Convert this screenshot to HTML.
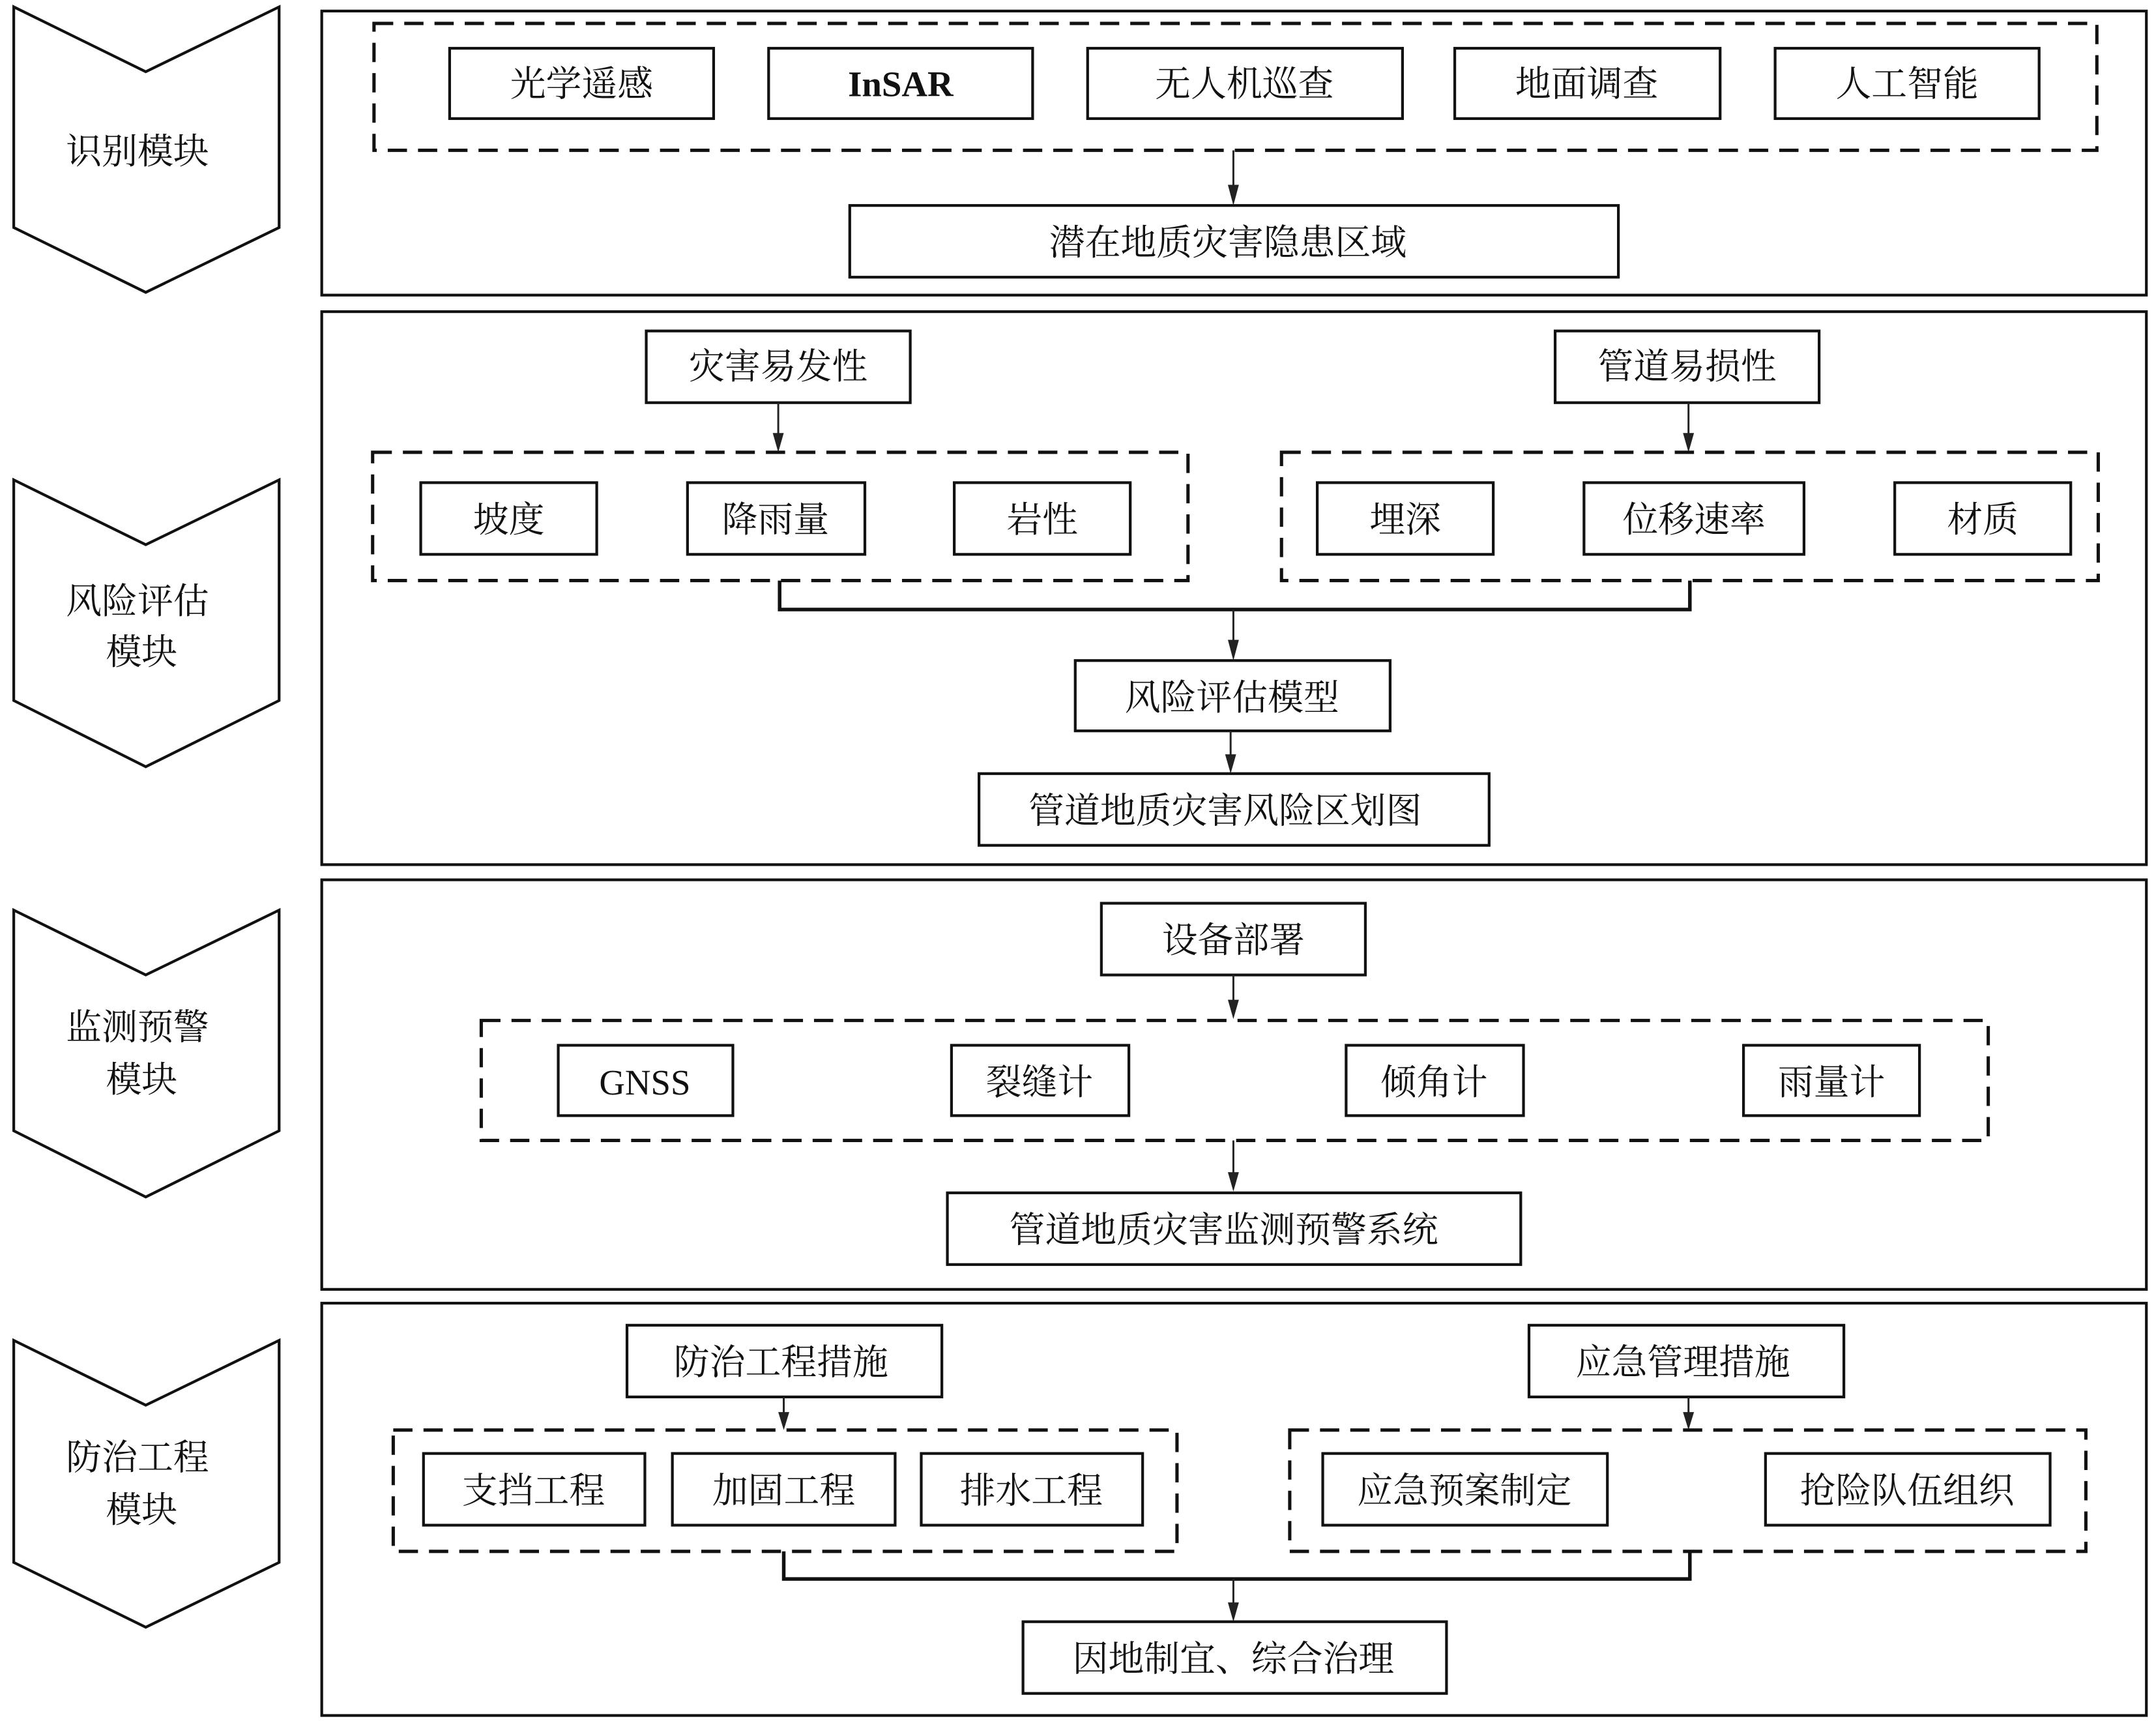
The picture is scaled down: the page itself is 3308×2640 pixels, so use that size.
<!DOCTYPE html>
<html><head><meta charset="utf-8"><style>
html,body{margin:0;padding:0;background:#fff}
svg{display:block}
text{font-family:"Liberation Serif","Noto Serif CJK SC",serif;font-size:26px;fill:#111;text-anchor:middle;dominant-baseline:central}
.b{fill:none;stroke:#111;stroke-width:2}
.d{fill:none;stroke:#111;stroke-width:2.4;stroke-dasharray:14 8}
.l{fill:none;stroke:#222;stroke-width:1.4}
.c{fill:none;stroke:#111;stroke-width:2.6}
.a{fill:#222}
</style></head><body>
<svg width="3308" height="2640" viewBox="0 0 1568 1248" preserveAspectRatio="none" xmlns="http://www.w3.org/2000/svg">
<polygon class="b" points="10,5 106,52 203,5 203,165 106,212 10,165"/>
<text x="100" y="110">识别模块</text>
<polygon class="b" points="10,348 106,395 203,348 203,508 106,556 10,508"/>
<text x="100" y="436">风险评估</text><text x="103" y="473">模块</text>
<polygon class="b" points="10,660 106,707 203,660 203,820 106,868 10,820"/>
<text x="100" y="745">监测预警</text><text x="103" y="783">模块</text>
<polygon class="b" points="10,972 106,1019 203,972 203,1133 106,1180 10,1133"/>
<text x="100" y="1057">防治工程</text><text x="103" y="1095">模块</text>

<rect class="b" x="234" y="8" width="1327" height="206"/>
<rect class="b" x="234" y="226" width="1327" height="401"/>
<rect class="b" x="234" y="638" width="1327" height="297"/>
<rect class="b" x="234" y="945" width="1327" height="299"/>

<rect class="d" x="272" y="17" width="1253" height="92"/>
<rect class="b" x="327" y="35" width="192" height="51"/><text x="423" y="61">光学遥感</text>
<rect class="b" x="559" y="35" width="192" height="51"/><text x="655" y="61" style="font-weight:bold">InSAR</text>
<rect class="b" x="791" y="35" width="229" height="51"/><text x="905" y="61">无人机巡查</text>
<rect class="b" x="1058" y="35" width="193" height="51"/><text x="1154" y="61">地面调查</text>
<rect class="b" x="1291" y="35" width="192" height="51"/><text x="1387" y="61">人工智能</text>
<line class="l" x1="897" y1="109" x2="897" y2="140"/><polygon class="a" points="893,134 901,134 897,149"/>
<rect class="b" x="618" y="149" width="559" height="52"/><text x="893" y="176">潜在地质灾害隐患区域</text>

<rect class="b" x="470" y="240" width="192" height="52"/><text x="566" y="266">灾害易发性</text>
<rect class="b" x="1131" y="240" width="192" height="52"/><text x="1227" y="266">管道易损性</text>
<line class="l" x1="566" y1="292" x2="566" y2="320"/><polygon class="a" points="562,314 570,314 566,328"/>
<line class="l" x1="1228" y1="292" x2="1228" y2="320"/><polygon class="a" points="1224,314 1232,314 1228,328"/>
<rect class="d" x="271" y="328" width="593" height="93"/>
<rect class="d" x="932" y="328" width="594" height="93"/>
<rect class="b" x="306" y="350" width="128" height="52"/><text x="370" y="377">坡度</text>
<rect class="b" x="500" y="350" width="129" height="52"/><text x="564" y="377">降雨量</text>
<rect class="b" x="694" y="350" width="128" height="52"/><text x="758" y="377">岩性</text>
<rect class="b" x="958" y="350" width="128" height="52"/><text x="1022" y="377">埋深</text>
<rect class="b" x="1152" y="350" width="160" height="52"/><text x="1232" y="377">位移速率</text>
<rect class="b" x="1378" y="350" width="128" height="52"/><text x="1442" y="377">材质</text>
<polyline class="c" points="567,421 567,442 1229,442 1229,421"/>
<line class="l" x1="897" y1="442" x2="897" y2="470"/><polygon class="a" points="893,464 901,464 897,479"/>
<rect class="b" x="782" y="479" width="229" height="51"/><text x="896" y="506">风险评估模型</text>
<line class="l" x1="895" y1="530" x2="895" y2="553"/><polygon class="a" points="891,547 899,547 895,561"/>
<rect class="b" x="712" y="561" width="371" height="52"/><text x="891" y="588">管道地质灾害风险区划图</text>

<rect class="b" x="801" y="655" width="192" height="52"/><text x="897" y="682">设备部署</text>
<line class="l" x1="897" y1="707" x2="897" y2="731"/><polygon class="a" points="893,725 901,725 897,739"/>
<rect class="d" x="350" y="740" width="1096" height="87"/>
<rect class="b" x="406" y="758" width="127" height="51"/><text x="469" y="785">GNSS</text>
<rect class="b" x="692" y="758" width="129" height="51"/><text x="756" y="785">裂缝计</text>
<rect class="b" x="979" y="758" width="129" height="51"/><text x="1043" y="785">倾角计</text>
<rect class="b" x="1268" y="758" width="128" height="51"/><text x="1332" y="785">雨量计</text>
<line class="l" x1="897" y1="827" x2="897" y2="856"/><polygon class="a" points="893,850 901,850 897,864"/>
<rect class="b" x="689" y="865" width="417" height="52"/><text x="890" y="892">管道地质灾害监测预警系统</text>

<rect class="b" x="456" y="961" width="229" height="52"/><text x="568" y="988">防治工程措施</text>
<rect class="b" x="1112" y="961" width="229" height="52"/><text x="1224" y="988">应急管理措施</text>
<line class="l" x1="570" y1="1013" x2="570" y2="1029"/><polygon class="a" points="566,1024 574,1024 570,1037"/>
<line class="l" x1="1228" y1="1013" x2="1228" y2="1029"/><polygon class="a" points="1224,1024 1232,1024 1228,1037"/>
<rect class="d" x="286" y="1037" width="570" height="88"/>
<rect class="d" x="938" y="1037" width="579" height="88"/>
<rect class="b" x="308" y="1054" width="161" height="52"/><text x="388" y="1081">支挡工程</text>
<rect class="b" x="489" y="1054" width="162" height="52"/><text x="570" y="1081">加固工程</text>
<rect class="b" x="670" y="1054" width="161" height="52"/><text x="750" y="1081">排水工程</text>
<rect class="b" x="962" y="1054" width="207" height="52"/><text x="1065" y="1081">应急预案制定</text>
<rect class="b" x="1284" y="1054" width="207" height="52"/><text x="1387" y="1081">抢险队伍组织</text>
<polyline class="c" points="570,1125 570,1145 1229,1145 1229,1125"/>
<line class="l" x1="897" y1="1145" x2="897" y2="1168"/><polygon class="a" points="893,1162 901,1162 897,1176"/>
<rect class="b" x="744" y="1176" width="308" height="52"/><text x="897" y="1203">因地制宜、综合治理</text>
</svg>
</body></html>
